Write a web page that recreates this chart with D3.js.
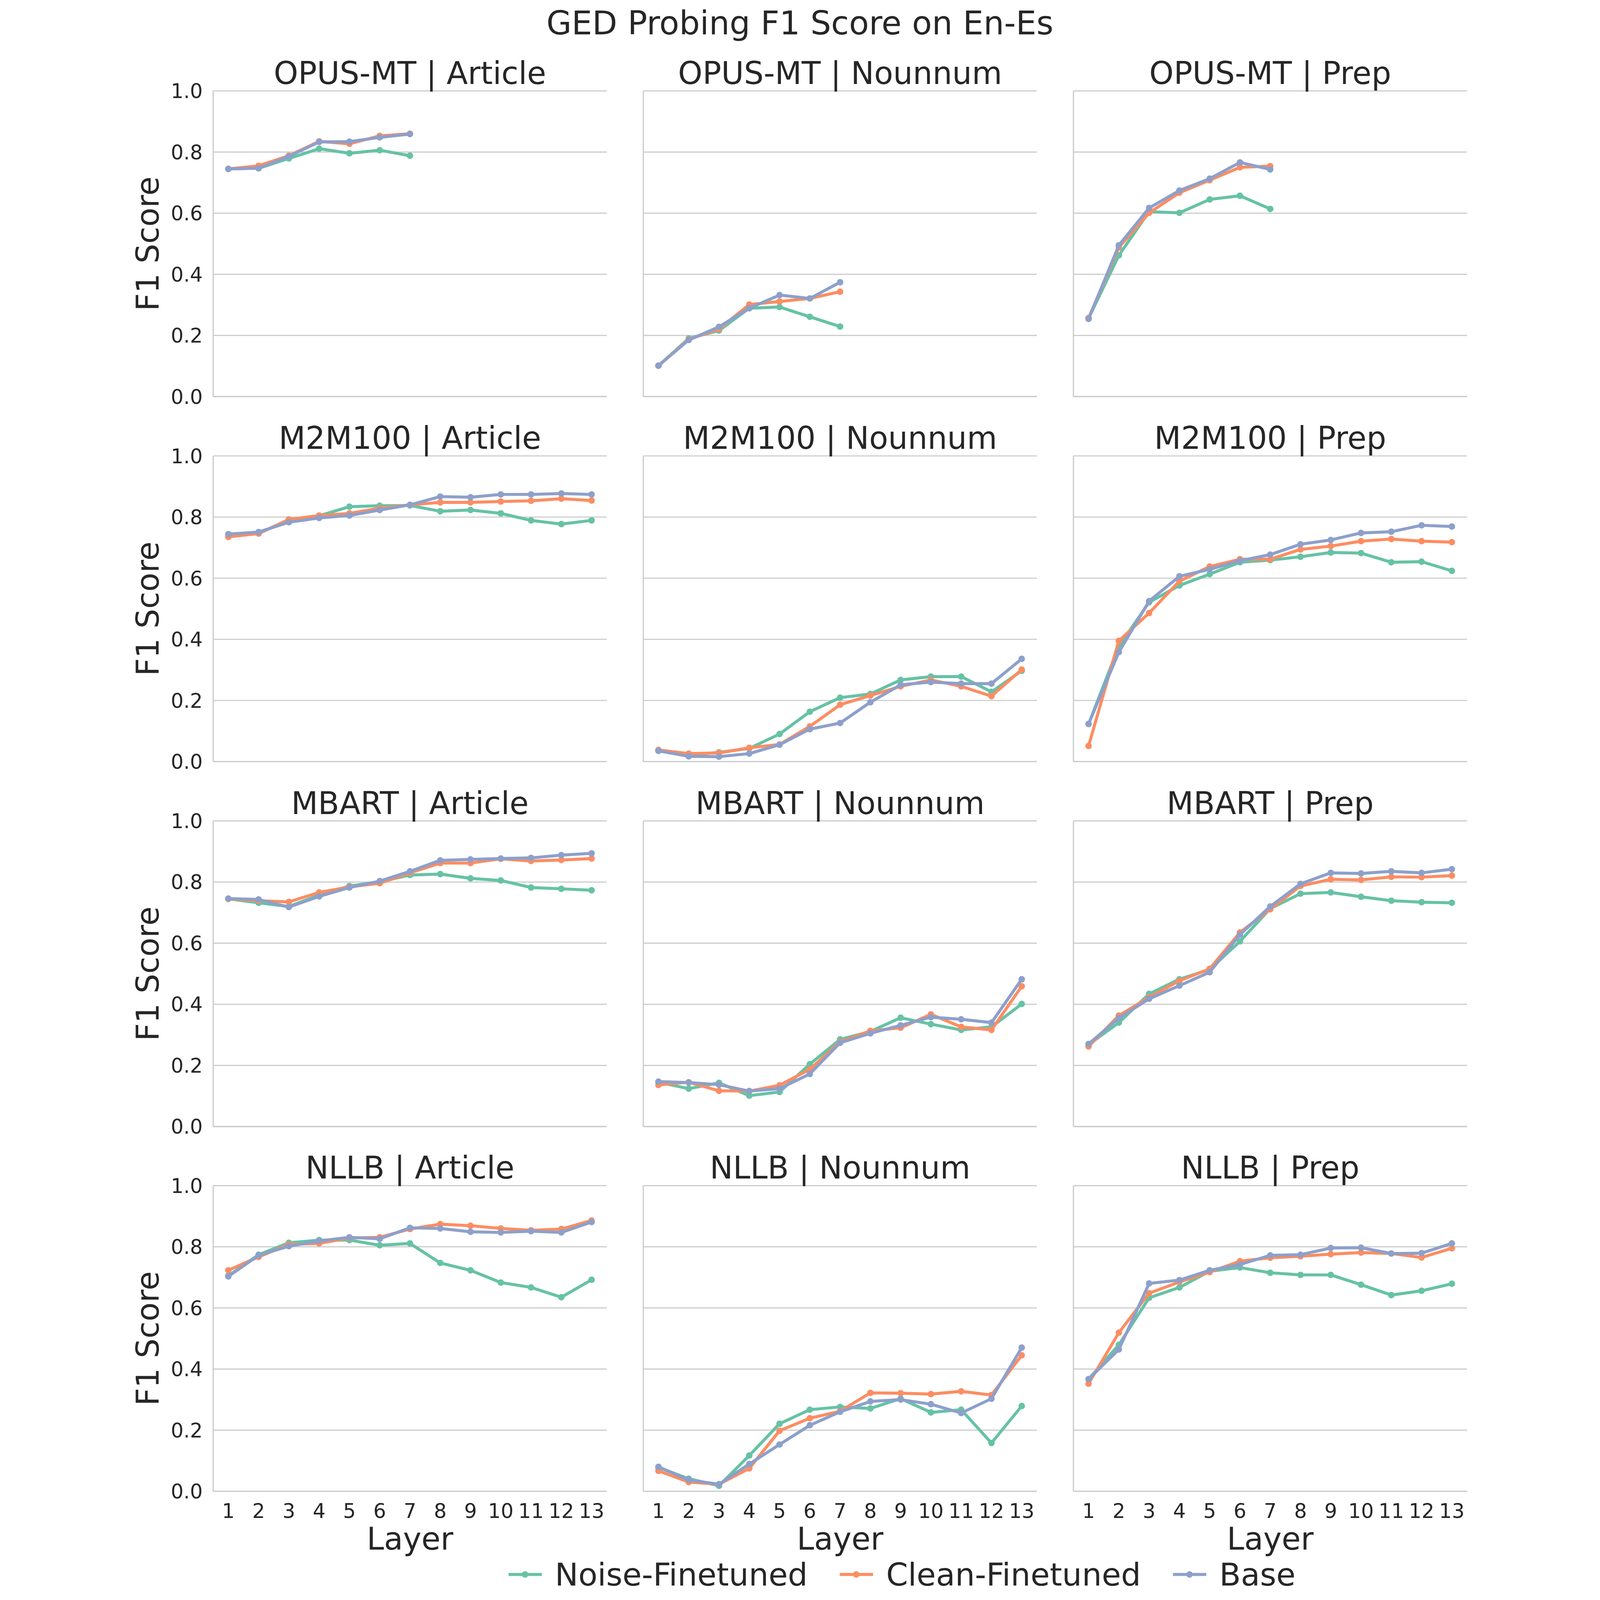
<!DOCTYPE html>
<html>
<head>
<meta charset="utf-8">
<script src="https://cdn.jsdelivr.net/npm/d3@7"></script>
<style>
  html, body { margin: 0; padding: 0; width: 100%; height: 100%; overflow: hidden; background: #fff; }
  #chart { width: 100vw; height: 100vh; }
  svg { display: block; }
  text { font-family: "DejaVu Sans", sans-serif; fill: #262626; }
</style>
</head>
<body>
<div id="chart"></div>
<script>
// categories
const layers = [1, 2, 3, 4, 5, 6, 7, 8, 9, 10, 11, 12, 13];
const models = ["OPUS-MT", "M2M100", "MBART", "NLLB"];
const errorTypes = ["Article", "Nounnum", "Prep"];
const seriesNames = ["Noise-Finetuned", "Clean-Finetuned", "Base"];
const yTicks = [0, 0.2, 0.4, 0.6, 0.8, 1.0];

// values per panel: [noise, clean, base]
const opusArticle = [
  [0.745, 0.747, 0.779, 0.811, 0.796, 0.806, 0.788],
  [0.745, 0.755, 0.788, 0.835, 0.827, 0.853, 0.860],
  [0.745, 0.747, 0.786, 0.833, 0.834, 0.848, 0.859]
];
const opusNounnum = [
  [0.101, 0.190, 0.216, 0.289, 0.293, 0.261, 0.229],
  [0.101, 0.187, 0.221, 0.301, 0.311, 0.321, 0.343],
  [0.101, 0.185, 0.228, 0.289, 0.332, 0.321, 0.374]
];
const opusPrep = [
  [0.256, 0.462, 0.605, 0.601, 0.645, 0.657, 0.614],
  [0.257, 0.488, 0.601, 0.667, 0.708, 0.750, 0.754],
  [0.254, 0.495, 0.617, 0.674, 0.713, 0.766, 0.743]
];
const m2mArticle = [
  [0.743, 0.746, 0.792, 0.804, 0.834, 0.837, 0.838, 0.819, 0.823, 0.812, 0.789, 0.777, 0.789],
  [0.735, 0.746, 0.792, 0.805, 0.812, 0.829, 0.840, 0.848, 0.848, 0.851, 0.853, 0.860, 0.854],
  [0.744, 0.751, 0.783, 0.797, 0.805, 0.823, 0.840, 0.867, 0.865, 0.874, 0.874, 0.877, 0.874]
];
const m2mNounnum = [
  [0.035, 0.021, 0.030, 0.043, 0.090, 0.163, 0.209, 0.221, 0.267, 0.278, 0.278, 0.228, 0.297],
  [0.038, 0.026, 0.028, 0.045, 0.056, 0.115, 0.186, 0.216, 0.246, 0.267, 0.246, 0.214, 0.301],
  [0.035, 0.017, 0.016, 0.026, 0.055, 0.106, 0.126, 0.194, 0.251, 0.260, 0.255, 0.255, 0.336]
];
const m2mPrep = [
  [0.123, 0.377, 0.521, 0.576, 0.613, 0.652, 0.659, 0.670, 0.684, 0.682, 0.652, 0.654, 0.624],
  [0.051, 0.395, 0.486, 0.590, 0.638, 0.662, 0.662, 0.694, 0.705, 0.721, 0.728, 0.721, 0.718],
  [0.123, 0.358, 0.525, 0.606, 0.629, 0.657, 0.677, 0.711, 0.725, 0.748, 0.752, 0.773, 0.769]
];
const mbartArticle = [
  [0.745, 0.732, 0.720, 0.757, 0.787, 0.801, 0.823, 0.826, 0.812, 0.805, 0.782, 0.778, 0.773],
  [0.745, 0.739, 0.735, 0.766, 0.784, 0.796, 0.830, 0.862, 0.862, 0.876, 0.869, 0.872, 0.877],
  [0.746, 0.743, 0.718, 0.753, 0.782, 0.803, 0.835, 0.871, 0.874, 0.877, 0.879, 0.888, 0.894]
];
const mbartNounnum = [
  [0.145, 0.124, 0.143, 0.101, 0.113, 0.204, 0.285, 0.311, 0.356, 0.335, 0.316, 0.326, 0.401],
  [0.136, 0.145, 0.117, 0.116, 0.135, 0.187, 0.277, 0.313, 0.323, 0.367, 0.326, 0.316, 0.459],
  [0.147, 0.144, 0.137, 0.116, 0.124, 0.172, 0.274, 0.305, 0.331, 0.358, 0.351, 0.340, 0.482]
];
const mbartPrep = [
  [0.268, 0.340, 0.434, 0.482, 0.514, 0.606, 0.713, 0.762, 0.766, 0.752, 0.739, 0.734, 0.732],
  [0.262, 0.363, 0.423, 0.477, 0.516, 0.635, 0.711, 0.787, 0.809, 0.807, 0.817, 0.816, 0.821],
  [0.270, 0.355, 0.418, 0.461, 0.505, 0.628, 0.720, 0.794, 0.830, 0.828, 0.835, 0.830, 0.842]
];
const nllbArticle = [
  [0.705, 0.774, 0.813, 0.822, 0.822, 0.805, 0.811, 0.747, 0.723, 0.683, 0.667, 0.635, 0.692],
  [0.723, 0.767, 0.808, 0.811, 0.829, 0.831, 0.858, 0.874, 0.869, 0.860, 0.854, 0.858, 0.886],
  [0.703, 0.772, 0.802, 0.819, 0.831, 0.826, 0.862, 0.860, 0.849, 0.847, 0.851, 0.847, 0.881]
];
const nllbNounnum = [
  [0.078, 0.041, 0.018, 0.117, 0.221, 0.267, 0.276, 0.271, 0.303, 0.258, 0.267, 0.158, 0.279],
  [0.067, 0.030, 0.023, 0.075, 0.198, 0.239, 0.262, 0.322, 0.321, 0.318, 0.327, 0.315, 0.445],
  [0.080, 0.037, 0.023, 0.089, 0.153, 0.216, 0.260, 0.294, 0.300, 0.285, 0.256, 0.303, 0.470]
];
const nllbPrep = [
  [0.367, 0.479, 0.633, 0.667, 0.720, 0.732, 0.715, 0.708, 0.708, 0.676, 0.642, 0.656, 0.679],
  [0.352, 0.519, 0.648, 0.685, 0.717, 0.753, 0.764, 0.769, 0.776, 0.781, 0.778, 0.765, 0.795],
  [0.367, 0.464, 0.680, 0.691, 0.723, 0.742, 0.772, 0.774, 0.796, 0.797, 0.778, 0.779, 0.811]
];

const panelData = [
  [opusArticle, opusNounnum, opusPrep],
  [m2mArticle, m2mNounnum, m2mPrep],
  [mbartArticle, mbartNounnum, mbartPrep],
  [nllbArticle, nllbNounnum, nllbPrep]
];

const colors = ["#66c2a5", "#fc8d62", "#8da0cb"];

// layout (in figure pixels, scaled to the window by the viewBox)
const width = 5365, height = 6387;
const panelW = 1571, panelH = 1220;
const colX = [340, 2057, 3774];
const rowY = [363, 1820, 3277, 4733];

const svg = d3.select("#chart").append("svg")
  .attr("viewBox", `0 0 ${width} ${height}`)
  .attr("preserveAspectRatio", "xMidYMid meet")
  .attr("width", "100%")
  .attr("height", "100%");

svg.append("rect").attr("width", width).attr("height", height).attr("fill", "#fff");

const x = d3.scalePoint().domain(layers).range([0, panelW]).padding(0.5);
const y = d3.scaleLinear().domain([0, 1]).range([panelH, 0]);

svg.append("text")
  .attr("x", 2682).attr("y", 138)
  .attr("text-anchor", "middle")
  .style("font-size", "130px")
  .text("GED Probing F1 Score on En-Es");

models.forEach((model, r) => {
  errorTypes.forEach((err, c) => {
    const g = svg.append("g").attr("transform", `translate(${colX[c]},${rowY[r]})`);

    // horizontal grid
    g.selectAll(".grid").data(yTicks).enter().append("line")
      .attr("x1", 0).attr("x2", panelW)
      .attr("y1", d => y(d)).attr("y2", d => y(d))
      .attr("stroke", "#cccccc").attr("stroke-width", 4.5);

    // spines
    g.append("line").attr("x1", 0).attr("x2", 0).attr("y1", 0).attr("y2", panelH)
      .attr("stroke", "#cccccc").attr("stroke-width", 5);
    g.append("line").attr("x1", 0).attr("x2", panelW).attr("y1", panelH).attr("y2", panelH)
      .attr("stroke", "#cccccc").attr("stroke-width", 5);

    g.append("text")
      .attr("x", panelW / 2).attr("y", -28)
      .attr("text-anchor", "middle")
      .style("font-size", "124px")
      .text(`${model} | ${err}`);

    if (c === 0) {
      g.selectAll(".ytick").data(yTicks).enter().append("text")
        .attr("x", -42).attr("y", d => y(d))
        .attr("dy", "0.36em")
        .attr("text-anchor", "end")
        .style("font-size", "80px")
        .text(d => d3.format(".1f")(d));
      g.append("text")
        .attr("transform", `translate(${78 - colX[0]},${panelH / 2}) rotate(-90)`)
        .attr("dy", "0.36em")
        .attr("text-anchor", "middle")
        .style("font-size", "124px")
        .text("F1 Score");
    }

    if (r === models.length - 1) {
      g.selectAll(".xtick").data(layers).enter().append("text")
        .attr("x", d => x(d)).attr("y", panelH + 78)
        .attr("dy", "0.36em")
        .attr("text-anchor", "middle")
        .style("font-size", "80px")
        .text(d => d);
      g.append("text")
        .attr("x", panelW / 2).attr("y", panelH + 188)
        .attr("dy", "0.36em")
        .attr("text-anchor", "middle")
        .style("font-size", "124px")
        .text("Layer");
    }

    const line = d3.line().x((d, i) => x(layers[i])).y(d => y(d));
    panelData[r][c].forEach((vals, s) => {
      g.append("path").datum(vals)
        .attr("d", line)
        .attr("fill", "none")
        .attr("stroke", colors[s])
        .attr("stroke-width", 12)
        .attr("stroke-linejoin", "round");
      g.selectAll(`.pt${s}`).data(vals).enter().append("circle")
        .attr("cx", (d, i) => x(layers[i]))
        .attr("cy", d => y(d))
        .attr("r", 13)
        .attr("fill", colors[s]);
    });
  });
});

// legend
const legend = svg.append("g").attr("transform", "translate(1519,6285)");
let lx = 0;
seriesNames.forEach((name, s) => {
  const item = legend.append("g").attr("transform", `translate(${lx},0)`);
  item.append("line").attr("x1", 0).attr("x2", 133).attr("y1", 0).attr("y2", 0)
    .attr("stroke", colors[s]).attr("stroke-width", 12);
  item.append("circle").attr("cx", 66).attr("cy", 0).attr("r", 13).attr("fill", colors[s]);
  const t = item.append("text").attr("x", 185).attr("dy", "0.36em")
    .style("font-size", "125px").text(name);
  lx += 185 + t.node().getComputedTextLength() + 128;
});
</script>
</body>
</html>
